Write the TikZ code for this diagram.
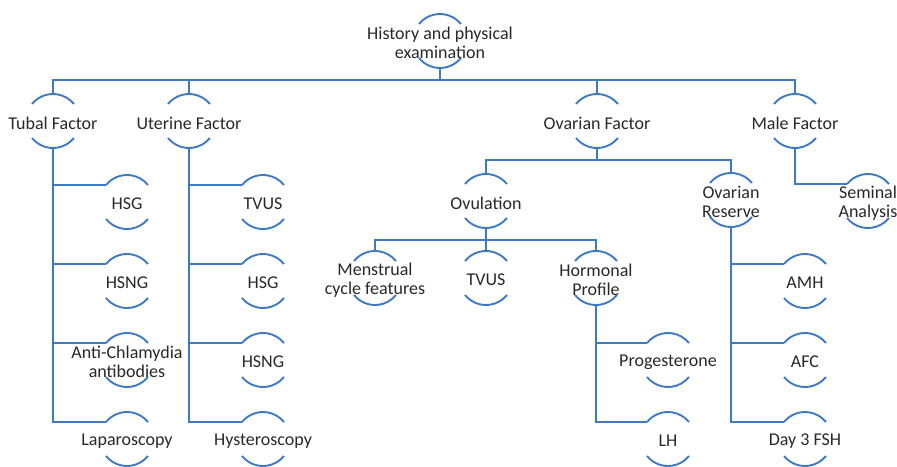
\documentclass[tikz,border=0pt]{standalone}
\usepackage{fontspec}
\setmainfont{Carlito}
\definecolor{treeblue}{RGB}{62,121,196}
\definecolor{labelgray}{RGB}{40,40,40}
\begin{document}
\begin{tikzpicture}[x=1pt,y=1pt,
  bubble/.style={circle, minimum size=54pt, inner sep=0pt, outer sep=0pt, draw=none},
  tag/.style={font=\fontsize{18}{19.5}\selectfont, text=labelgray, align=center, inner sep=0pt, yshift=-2pt},
  link/.style={draw=treeblue, line width=1.9pt},
  rim/.style={draw=treeblue, line width=1.9pt}]
\useasboundingbox (0,0) rectangle (897,-466);

% root
\node[bubble, label={[tag]center:History and physical\\examination}] (hist) at (440,-41) {};

% main factors
\node[bubble, label={[tag]center:Tubal Factor}]   (tubal) at (53,-121) {};
\node[bubble, label={[tag]center:Uterine Factor}] (uter)  at (189,-121) {};
\node[bubble, label={[tag]center:Ovarian Factor}] (ovar)  at (597,-121) {};
\node[bubble, label={[tag]center:Male Factor}]    (male)  at (795,-121) {};

% tubal tests
\node[bubble, label={[tag]center:HSG}]  (hsgA)  at (127,-202) {};
\node[bubble, label={[tag]center:HSNG}] (hsngA) at (127,-281) {};
\node[bubble, label={[tag]center:Anti-Chlamydia\\antibodies}] (chlam) at (127,-360) {};
\node[bubble, label={[tag]center:Laparoscopy}] (lapa) at (127,-439) {};

% uterine tests
\node[bubble, label={[tag]center:TVUS}] (tvusA) at (263,-202) {};
\node[bubble, label={[tag]center:HSG}]  (hsgB)  at (263,-281) {};
\node[bubble, label={[tag]center:HSNG}] (hsngB) at (263,-360) {};
\node[bubble, label={[tag]center:Hysteroscopy}] (hyst) at (263,-439) {};

% ovarian branch
\node[bubble, label={[tag]center:Ovulation}] (ovul) at (486,-201) {};
\node[bubble, label={[tag]center:Ovarian\\Reserve}] (ores) at (731,-200) {};
\node[bubble, label={[tag]center:Menstrual\\cycle features}] (menst) at (375,-278) {};
\node[bubble, label={[tag]center:TVUS}] (tvusB) at (486,-278) {};
\node[bubble, label={[tag]center:Hormonal\\Profile}] (horm) at (596,-278) {};
\node[bubble, label={[tag]center:Progesterone}] (prog) at (668,-360) {};
\node[bubble, label={[tag]center:LH}] (lh) at (668,-439) {};
\node[bubble, label={[tag]center:AMH}] (amh) at (805,-281) {};
\node[bubble, label={[tag]center:AFC}] (afc) at (805,-360) {};
\node[bubble, label={[tag]center:Day 3 FSH}] (fsh) at (805,-439) {};

% male branch
\node[bubble, label={[tag]center:Seminal\\Analysis}] (semen) at (868,-201) {};

% bus levels
\coordinate (busTop) at (0,-80);
\coordinate (busOva) at (0,-160);
\coordinate (busOvu) at (0,-240);

% connectors
\foreach \c in {tubal,uter,ovar,male}
  \draw[link] (hist.south) -- (hist.south |- busTop) -| (\c.north);
\foreach \c in {ovul,ores}
  \draw[link] (ovar.south) -- (ovar.south |- busOva) -| (\c.north);
\foreach \c in {menst,tvusB,horm}
  \draw[link] (ovul.south) -- (ovul.south |- busOvu) -| (\c.north);
\foreach \c in {hsgA,hsngA,chlam,lapa}
  \draw[link] (tubal.south) |- (\c.141);
\foreach \c in {tvusA,hsgB,hsngB,hyst}
  \draw[link] (uter.south) |- (\c.141);
\foreach \c in {prog,lh}
  \draw[link] (horm.south) |- (\c.141);
\foreach \c in {amh,afc,fsh}
  \draw[link] (ores.south) |- (\c.141);
\draw[link] (male.south) |- (semen.141);

% upper and lower rims of every bubble
\foreach \n in {hist,tubal,uter,ovar,male,hsgA,hsngA,chlam,lapa,tvusA,hsgB,hsngB,hyst,
                ovul,ores,menst,tvusB,horm,prog,lh,amh,afc,fsh,semen}{
  \draw[rim] (\n.141) arc[start angle=141, end angle=39, radius=27pt];
  \draw[rim] (\n.-141) arc[start angle=-141, end angle=-39, radius=27pt];
}
\end{tikzpicture}
\end{document}
